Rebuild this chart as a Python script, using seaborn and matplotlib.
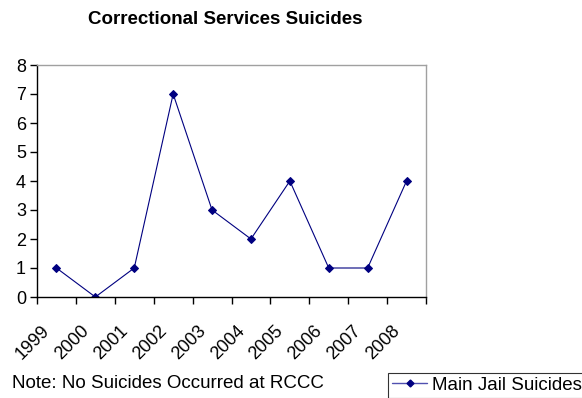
import numpy as np
import pandas as pd
import matplotlib
matplotlib.use("Agg")
import matplotlib.pyplot as plt
import matplotlib.transforms as mtransforms
import seaborn as sns
from matplotlib.ticker import FixedLocator, NullFormatter

years = ["1999", "2000", "2001", "2002", "2003", "2004", "2005", "2006", "2007", "2008"]
suicides = [1, 0, 1, 7, 3, 2, 4, 1, 1, 4]
series_name = "Main Jail Suicides"

sns.set_theme(style="white")
plt.rcParams["font.family"] = ["Liberation Sans", "DejaVu Sans"]
plt.rcParams["text.color"] = "black"
plt.rcParams["xtick.color"] = "black"
plt.rcParams["ytick.color"] = "black"

df = pd.DataFrame({"pos": np.arange(len(years)) + 0.5, "value": suicides, "series": series_name})

W, H = 582, 398
fig = plt.figure(figsize=(W / 100, H / 100), dpi=100)
ax = fig.add_axes([37 / W, 1 - 297 / H, (426 - 37) / W, (297 - 65) / H])

navy = "#000080"
sns.lineplot(data=df, x="pos", y="value", hue="series", palette=[navy],
             marker="D", markersize=4.5, markeredgecolor=navy, linewidth=0.8,
             ax=ax, legend=False)

ax.set_xlim(0, len(years))
ax.set_ylim(0, 8)
ax.set_yticks(range(0, 9))
ax.xaxis.set_major_locator(FixedLocator(np.arange(len(years) + 1)))
ax.xaxis.set_major_formatter(NullFormatter())
ax.tick_params(axis="x", which="major", direction="out", length=5, width=1, color="black", bottom=True)
ax.tick_params(axis="y", direction="out", length=5, width=1, color="black", labelcolor="black",
               labelsize=13, pad=3, left=True)
ax.set_xlabel("")
ax.set_ylabel("")

# Rotated category labels, anchored just below each category centre
base = mtransforms.blended_transform_factory(ax.transData, ax.transAxes)
offset = mtransforms.ScaledTranslation(-15 / 100, -25 / 100, fig.dpi_scale_trans)
for pos, yr in zip(df["pos"], years):
    ax.text(pos, 0, yr, transform=base + offset, rotation=45, rotation_mode="anchor",
            ha="right", va="top", fontsize=13, color="black", clip_on=False)

for side in ("left", "bottom"):
    ax.spines[side].set_color("black")
    ax.spines[side].set_linewidth(1)
for side in ("top", "right"):
    ax.spines[side].set_color("#a0a0a0")
    ax.spines[side].set_linewidth(1)
ax.grid(False)

fig.text(225 / W, 1 - 20 / H, "Correctional Services Suicides", ha="center", va="center",
         fontsize=13.5, fontweight="bold", color="black")
fig.text(12 / W, 1 - 384 / H, "Note: No Suicides Occurred at RCCC", ha="left", va="center",
         fontsize=13.5, color="black")

handle = plt.Line2D([], [], color="#5050b0", marker="D", markersize=3.5,
                    markerfacecolor=navy, markeredgecolor=navy, linewidth=1)
leg = fig.legend([handle], [series_name], loc="upper left",
                 bbox_to_anchor=(388 / W, 1 - 373 / H), frameon=True, fancybox=False,
                 fontsize=13.5, handlelength=1.9, handletextpad=0.25, borderpad=0.2,
                 borderaxespad=0)
for t in leg.get_texts():
    t.set_color("black")
leg.get_frame().set_edgecolor("black")
leg.get_frame().set_linewidth(0.8)

fig.savefig("out.png", dpi=100)
